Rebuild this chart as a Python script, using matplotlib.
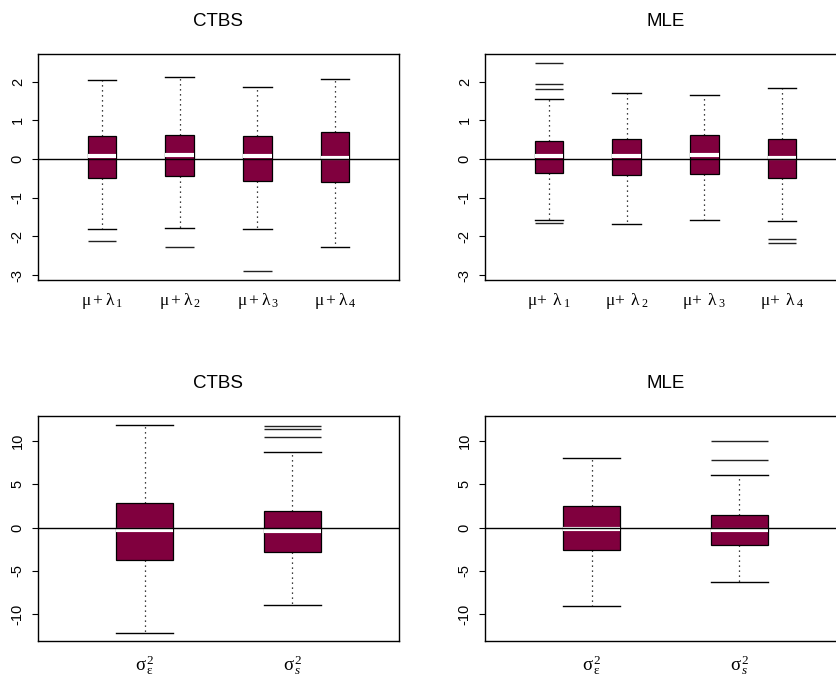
import matplotlib
matplotlib.use("Agg")
import matplotlib.pyplot as plt

plt.rcParams['font.family'] = ['Liberation Sans', 'DejaVu Sans']
plt.rcParams['mathtext.fontset'] = 'custom'
plt.rcParams['mathtext.rm'] = 'Liberation Serif'
plt.rcParams['mathtext.it'] = 'Liberation Serif:italic'

box_col = '#80003e'

# mu + lambda panels
mu_labels_ctbs = [r'$\mathrm{μ + λ}_{\,1}$', r'$\mathrm{μ + λ}_{\,2}$', r'$\mathrm{μ + λ}_{\,3}$', r'$\mathrm{μ + λ}_{\,4}$']
mu_labels_mle = [r'$\mathrm{μ\!+\; λ}_{\;1}$', r'$\mathrm{μ\!+\; λ}_{\;2}$', r'$\mathrm{μ\!+\; λ}_{\;3}$', r'$\mathrm{μ\!+\; λ}_{\;4}$']

ctbs_mu_whislo = [-1.80, -1.78, -1.81, -2.26]
ctbs_mu_q1 = [-0.50, -0.43, -0.56, -0.59]
ctbs_mu_med = [0.09, 0.10, 0.08, 0.03]
ctbs_mu_q3 = [0.60, 0.63, 0.60, 0.69]
ctbs_mu_whishi = [2.05, 2.12, 1.85, 2.07]
ctbs_mu_out = [[-2.12], [-2.26], [-2.90], []]

mle_mu_whislo = [-1.57, -1.67, -1.57, -1.61]
mle_mu_q1 = [-0.36, -0.41, -0.39, -0.49]
mle_mu_med = [0.09, 0.08, 0.10, 0.03]
mle_mu_q3 = [0.46, 0.52, 0.62, 0.52]
mle_mu_whishi = [1.56, 1.70, 1.64, 1.84]
mle_mu_out = [[2.49, 1.94, 1.80, -1.66], [], [], [-2.06, -2.16]]

# variance panels
sig_labels = [r'$\mathrm{σ}^{\,2}_{\,\mathrm{ε}}$', r'$\mathrm{σ}^{\,2}_{\,s}$']

ctbs_sig_whislo = [-12.22, -8.98]
ctbs_sig_q1 = [-3.70, -2.77]
ctbs_sig_med = [-0.31, -0.42]
ctbs_sig_q3 = [2.81, 1.93]
ctbs_sig_whishi = [11.87, 8.71]
ctbs_sig_out = [[], [11.7, 11.33, 10.4]]

mle_sig_whislo = [-9.06, -6.28]
mle_sig_q1 = [-2.54, -1.97]
mle_sig_med = [-0.15, -0.29]
mle_sig_q3 = [2.47, 1.50]
mle_sig_whishi = [8.02, 6.09]
mle_sig_out = [[], [10.02, 7.78]]


def panel(ax, title, labels, lo, q1, med, q3, hi, out, width, xlim, ylim, yticks, lab_pad, lab_size):
    stats = []
    for i in range(len(labels)):
        stats.append(dict(whislo=lo[i], q1=q1[i], med=med[i], q3=q3[i], whishi=hi[i], fliers=[]))
    pos = list(range(1, len(labels) + 1))
    ax.bxp(stats, positions=pos, widths=width, patch_artist=True, showfliers=False,
           boxprops=dict(facecolor=box_col, edgecolor='black', linewidth=0.9),
           medianprops=dict(color='white', linewidth=3),
           whiskerprops=dict(color='black', linestyle=(0, (1, 3)), linewidth=0.9),
           capprops=dict(color='black', linewidth=1.0),
           capwidths=width)
    for p, vals in zip(pos, out):
        for v in vals:
            ax.hlines(v, p - width / 2, p + width / 2, color='#222222', linewidth=1.0)
    ax.axhline(0, color='black', linewidth=1.0, zorder=5)
    ax.set_xlim(*xlim)
    ax.set_ylim(*ylim)
    ax.set_xticks(pos)
    ax.set_xticklabels(labels, fontsize=lab_size)
    ax.tick_params(axis='x', length=0, pad=lab_pad)
    ax.set_yticks(yticks)
    ax.set_yticklabels([str(t) for t in yticks], rotation=90, va='center', fontsize=10.5)
    ax.tick_params(axis='y', length=4.5, width=0.8, pad=5)
    for s in ax.spines.values():
        s.set_linewidth(1.0)
    ax.set_title(title, fontsize=13.5, pad=20)


fig = plt.figure(figsize=(8.36, 6.82), dpi=100)
W = 836.0
H = 682.0
aw = 361 / W
top_b = 1 - 280 / H
top_h = 226 / H
bot_b = 1 - 641 / H
bot_h = 225 / H

ax1 = fig.add_axes([38 / W, top_b, aw, top_h])
ax2 = fig.add_axes([485 / W, top_b, aw, top_h])
ax3 = fig.add_axes([38 / W, bot_b, aw, bot_h])
ax4 = fig.add_axes([485 / W, bot_b, aw, bot_h])

mu_ylim = (-3.124, 2.711)
sig_ylim = (-13.1, 12.87)

panel(ax1, 'CTBS', mu_labels_ctbs, ctbs_mu_whislo, ctbs_mu_q1, ctbs_mu_med, ctbs_mu_q3,
      ctbs_mu_whishi, ctbs_mu_out, 0.364, (0.18, 4.82), mu_ylim, [-3, -2, -1, 0, 1, 2], 8, 12.5)
panel(ax2, 'MLE', mu_labels_mle, mle_mu_whislo, mle_mu_q1, mle_mu_med, mle_mu_q3,
      mle_mu_whishi, mle_mu_out, 0.364, (0.18, 4.82), mu_ylim, [-3, -2, -1, 0, 1, 2], 8, 12.5)
panel(ax3, 'CTBS', sig_labels, ctbs_sig_whislo, ctbs_sig_q1, ctbs_sig_med, ctbs_sig_q3,
      ctbs_sig_whishi, ctbs_sig_out, 0.38, (0.28, 2.72), sig_ylim, [-10, -5, 0, 5, 10], 9, 13.5)
panel(ax4, 'MLE', sig_labels, mle_sig_whislo, mle_sig_q1, mle_sig_med, mle_sig_q3,
      mle_sig_whishi, mle_sig_out, 0.38, (0.28, 2.72), sig_ylim, [-10, -5, 0, 5, 10], 9, 13.5)

fig.savefig('out.png', dpi=100)
